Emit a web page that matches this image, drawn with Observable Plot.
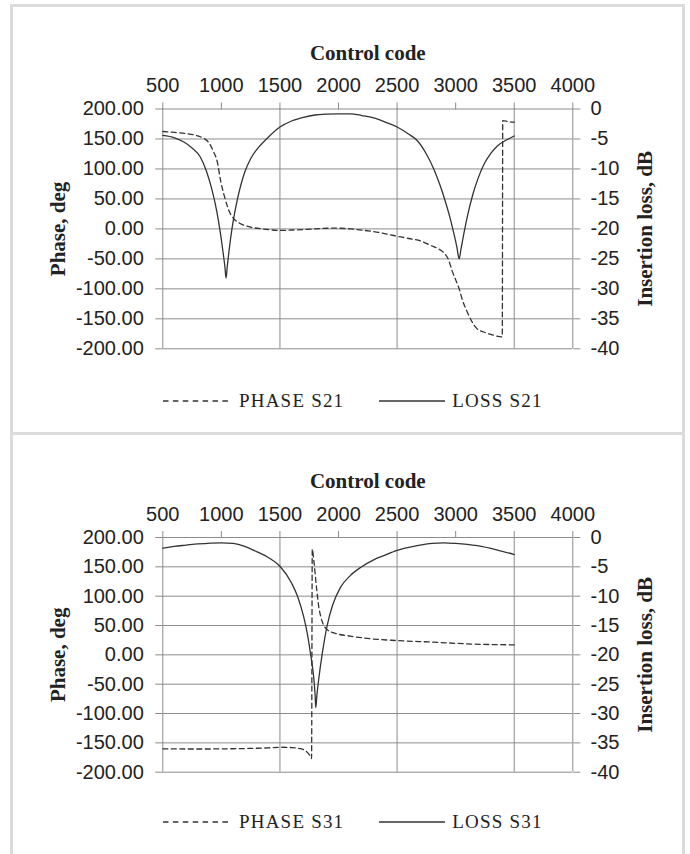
<!DOCTYPE html>
<html>
<head>
<meta charset="utf-8">
<script src="https://cdn.jsdelivr.net/npm/d3@7"></script>
<script src="https://cdn.jsdelivr.net/npm/@observablehq/plot@0.6"></script>
<style>
  html, body { margin: 0; padding: 0; background: #fff; }
  body { width: 690px; height: 854px; position: relative; overflow: hidden; }
  .panel { position: absolute; left: 10px; width: 675px; box-sizing: border-box; border: 3px solid #dcdcdc; }
  .chart { position: absolute; left: 0; }
  .legend { position: absolute; left: 0; height: 22px; display: flex; align-items: center;
            font-family: "Liberation Serif", "Times New Roman", serif; font-size: 19px; letter-spacing: 1.2px; color: #222; }
  .legend svg { display: block; }
</style>
</head>
<body>
<div class="panel" style="top:4px;height:431px;"></div>
<div class="panel" style="top:432px;height:440px;"></div>
<div id="c1" class="chart" style="top:0px;"></div>
<div id="c2" class="chart" style="top:428px;"></div>
<div id="l1" class="legend" style="top:390px;"></div>
<div id="l2" class="legend" style="top:811px;"></div>
<script>
// ---- axes ----
const xTicks = [500, 1000, 1500, 2000, 2500, 3000, 3500, 4000];
const xGrid = [500, 1500, 2500, 3500, 4000];
const yTicks = [-200, -150, -100, -50, 0, 50, 100, 150, 200];
const xTitle = "Control code";
const yTitleLeft = "Phase, deg";
const yTitleRight = "Insertion loss, dB";

// ---- panel 1: S21 ----
const phaseS21Code = [500, 600, 700, 800, 850, 900, 930, 965, 993, 1025, 1080, 1106, 1160, 1250, 1350, 1500, 1650, 1800, 1960, 2100, 2200, 2350, 2470, 2600, 2700, 2785, 2850, 2900, 2940, 2970, 3000, 3030, 3060, 3100, 3140, 3180, 3240, 3300, 3398, 3402, 3450, 3500];
const phaseS21 = [162.5, 161, 159, 155, 151, 142, 130, 112, 81, 55, 24, 17, 9, 3, 0, -2.5, -1.5, 0, 1.3, 0, -2, -6, -11, -16, -20, -27.5, -33, -40, -52, -70, -85, -100, -120, -139, -155, -166, -172, -176, -180, 180.5, 179, 178];
const lossS21Code = [500, 600, 680, 750, 820, 875, 920, 960, 990, 1015, 1030, 1040, 1050, 1065, 1092, 1140, 1200, 1250, 1300, 1385, 1500, 1600, 1700, 1800, 1900, 2000, 2100, 2200, 2300, 2400, 2500, 2600, 2671, 2750, 2813, 2870, 2910, 2950, 2985, 3010, 3030, 3045, 3070, 3100, 3146, 3189, 3240, 3300, 3354, 3450, 3500];
const lossS21 = [-4.4, -4.8, -5.5, -6.5, -8.0, -10.5, -13.5, -17, -20.5, -24, -26.3, -28.2, -26.3, -23.7, -19.8, -14.8, -10.5, -8.3, -6.8, -5.0, -3.0, -2.0, -1.4, -1.0, -0.85, -0.8, -0.8, -1.1, -1.5, -2.2, -3.0, -4.2, -5.25, -7.5, -10.0, -12.9, -15.3, -18, -20.8, -23, -25, -23.4, -20.8, -17.9, -14.3, -11.7, -9.3, -7.4, -6.2, -5.0, -4.5];

// ---- panel 2: S31 ----
const phaseS31Code = [500, 800, 1100, 1400, 1500, 1600, 1676, 1733, 1760, 1770, 1776, 1789, 1812, 1832, 1850, 1870, 1903, 1960, 2100, 2245, 2492, 2813, 3098, 3500];
const phaseS31 = [-160.2, -160.5, -160, -158.5, -157.5, -158, -160, -166, -173, -177, 180, 161, 115, 81, 64, 52, 43, 37.5, 32, 28, 24.4, 21.6, 18.7, 17];
const lossS31Code = [500, 600, 700, 800, 1000, 1100, 1200, 1300, 1400, 1500, 1600, 1650, 1704, 1730, 1761, 1789, 1800, 1806, 1815, 1832, 1861, 1903, 1950, 2017, 2100, 2188, 2300, 2387, 2500, 2671, 2800, 2900, 3000, 3184, 3350, 3500];
const lossS31 = [-1.8, -1.5, -1.3, -1.1, -0.9, -1.0, -1.5, -2.4, -3.4, -4.9, -7.8, -10, -13.6, -16.0, -19.8, -24.0, -26.8, -29, -27, -24, -19.8, -15, -11.5, -8.5, -6.5, -5.1, -3.8, -3.1, -2.2, -1.4, -1.0, -0.9, -1.0, -1.4, -2.1, -2.9];

const seriesNames = [["PHASE S21", "LOSS S21"], ["PHASE S31", "LOSS S31"]];

const gridColor = "#8c8c8c";
const lineColor = "#333";
const textColor = "#222";
const zip = (xs, ys, key) => xs.map((x, i) => ({code: x, [key]: ys[i]}));
const serif = "'Liberation Serif', 'Times New Roman', serif";

function makeChart({phase, loss, height, marginTop, marginBottom}) {
  return Plot.plot({
    width: 690,
    height,
    marginLeft: 162.3,
    marginRight: 117.7,
    marginTop,
    marginBottom,
    style: {fontFamily: "'Liberation Sans', Arial, sans-serif", fontSize: "20px", background: "transparent", color: textColor, overflow: "visible"},
    x: {domain: [500, 4000]},
    y: {domain: [-200, 200]},
    marks: [
      Plot.gridY(yTicks, {stroke: gridColor, strokeOpacity: 1, strokeWidth: 1}),
      Plot.gridX(xGrid, {stroke: gridColor, strokeOpacity: 1, strokeWidth: 1}),
      Plot.axisX({anchor: "top", ticks: xTicks, tickSize: 7, tickPadding: 9.8, label: null, stroke: gridColor, fill: textColor, tickFormat: d => String(d)}),
      Plot.axisY({anchor: "left", ticks: yTicks, tickSize: 7, tickPadding: 12, label: null, stroke: gridColor, fill: textColor, tickFormat: d => d.toFixed(2)}),
      Plot.axisY({anchor: "right", ticks: yTicks, tickSize: 7, tickPadding: 10.7, label: null, stroke: gridColor, fill: textColor, tickFormat: d => String(d / 10 - 20)}),
      Plot.line(phase, {x: "code", y: "phase", stroke: lineColor, strokeWidth: 1.3, strokeDasharray: "5,3.5", curve: "monotone-x"}),
      Plot.line(loss, {x: "code", y: d => 10 * (d.loss + 20), stroke: lineColor, strokeWidth: 1.3, curve: "monotone-x"}),
      Plot.text([xTitle], {text: d => d, frameAnchor: "top", dy: -56, lineAnchor: "middle", textAnchor: "middle", fontFamily: serif, fontWeight: "bold", fontSize: 21, fill: textColor}),
      Plot.text([yTitleLeft], {text: d => d, frameAnchor: "left", dx: -104.3, rotate: -90, lineAnchor: "middle", textAnchor: "middle", fontFamily: serif, fontWeight: "bold", fontSize: 21, fill: textColor}),
      Plot.text([yTitleRight], {text: d => d, frameAnchor: "right", dx: 72.7, rotate: -90, lineAnchor: "middle", textAnchor: "middle", fontFamily: serif, fontWeight: "bold", fontSize: 21, fill: textColor})
    ]
  });
}

document.getElementById("c1").appendChild(makeChart({
  phase: zip(phaseS21Code, phaseS21, "phase"),
  loss: zip(lossS21Code, lossS21, "loss"),
  height: 360, marginTop: 108.5, marginBottom: 11.7
}));
document.getElementById("c2").appendChild(makeChart({
  phase: zip(phaseS31Code, phaseS31, "phase"),
  loss: zip(lossS31Code, lossS31, "loss"),
  height: 355, marginTop: 109, marginBottom: 11.3
}));

function legend(el, names) {
  const sw = (dash) => `<svg width="66" height="22"><line x1="0" y1="11" x2="66" y2="11" stroke="${lineColor}" stroke-width="1.3" ${dash ? 'stroke-dasharray="5.5,4.4"' : ''}/></svg>`;
  el.innerHTML =
    `<span style="margin-left:163px">${sw(true)}</span>` +
    `<span style="margin-left:10px">${names[0]}</span>` +
    `<span style="margin-left:35px">${sw(false)}</span>` +
    `<span style="margin-left:7px">${names[1]}</span>`;
}
legend(document.getElementById("l1"), seriesNames[0]);
legend(document.getElementById("l2"), seriesNames[1]);
</script>
</body>
</html>
